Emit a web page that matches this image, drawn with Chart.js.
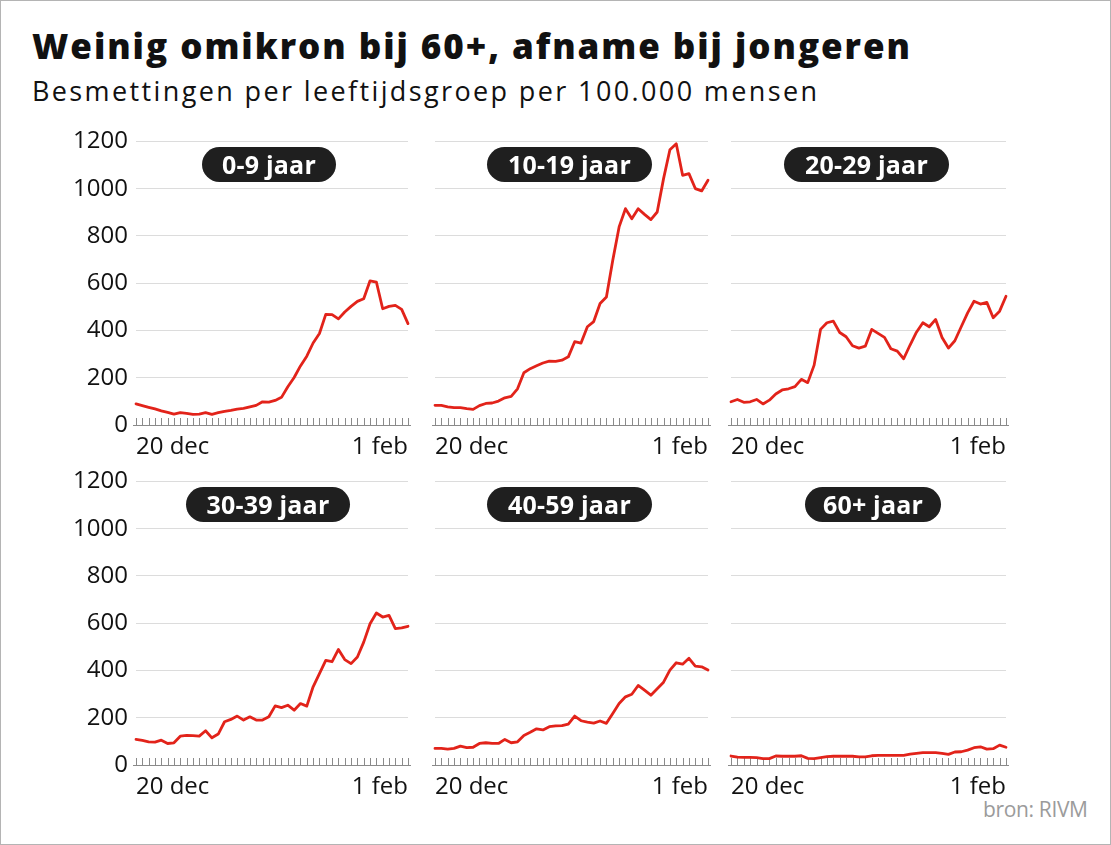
<!DOCTYPE html>
<html><head><meta charset="utf-8">
<script src="https://cdn.jsdelivr.net/npm/chart.js@4"></script>
<style>
html,body{margin:0;padding:0;background:#fff;}
#frame{position:relative;width:1111px;height:845px;overflow:hidden;font-family:"Open Sans",sans-serif;background:#fff;}
#border{position:absolute;left:0;top:0;width:1111px;height:845px;box-sizing:border-box;border:1px solid #b4b4b4;pointer-events:none;}
.t{position:absolute;white-space:nowrap;line-height:1;}
#title{left:32px;top:28px;font-size:35px;font-weight:800;color:#111;}
#sub{left:32px;top:77px;font-size:27px;font-weight:400;color:#111;}
#src{left:983px;top:799px;font-size:21px;color:#9b9b9b;}
.pill{position:absolute;height:35px;border-radius:18px;background:#1f1f1f;color:#fff;font-weight:700;font-size:25px;display:flex;align-items:center;justify-content:center;line-height:1;white-space:nowrap;letter-spacing:0.2px;}
canvas{position:absolute;}
</style></head>
<body>
<div id="frame">
  <div id="title" class="t">Weinig omikron bij 60+, afname bij jongeren</div>
  <div id="sub" class="t">Besmettingen per leeftijdsgroep per 100.000 mensen</div>
  <div id="src" class="t">bron: RIVM</div>
  <canvas id="c0" width="360" height="340" style="left:60px;top:125px"></canvas>
  <canvas id="c1" width="295" height="340" style="left:425px;top:125px"></canvas>
  <canvas id="c2" width="297" height="340" style="left:721px;top:125px"></canvas>
  <canvas id="c3" width="360" height="340" style="left:60px;top:465px"></canvas>
  <canvas id="c4" width="295" height="340" style="left:425px;top:465px"></canvas>
  <canvas id="c5" width="297" height="340" style="left:721px;top:465px"></canvas>
  <div id="p0" class="pill" style="left:202px;top:147px;width:134px"></div>
  <div id="p1" class="pill" style="left:487px;top:147px;width:165px"></div>
  <div id="p2" class="pill" style="left:784px;top:147px;width:165px"></div>
  <div id="p3" class="pill" style="left:186px;top:487px;width:164px"></div>
  <div id="p4" class="pill" style="left:487px;top:487px;width:165px"></div>
  <div id="p5" class="pill" style="left:805px;top:487px;width:136px"></div>
  <div id="border"></div>
</div>
<script>
// ---- data ----
const categories = ['20 dec','21 dec','22 dec','23 dec','24 dec','25 dec','26 dec','27 dec','28 dec','29 dec','30 dec','31 dec',
 '1 jan','2 jan','3 jan','4 jan','5 jan','6 jan','7 jan','8 jan','9 jan','10 jan','11 jan','12 jan','13 jan','14 jan','15 jan',
 '16 jan','17 jan','18 jan','19 jan','20 jan','21 jan','22 jan','23 jan','24 jan','25 jan','26 jan','27 jan','28 jan','29 jan',
 '30 jan','31 jan','1 feb'];
const groupNames = ['0-9 jaar','10-19 jaar','20-29 jaar','30-39 jaar','40-59 jaar','60+ jaar'];
const s0_9   = [89,82,75,68,60,53,46,52,49,45,46,52,45,52,58,62,67,70,77,83,98,97,104,117,162,201,250,291,347,387,468,467,449,478,502,523,534,610,605,492,502,506,489,429];
const s10_19 = [83,83,77,73,73,69,66,82,91,93,101,115,121,153,221,238,250,262,270,269,274,288,352,346,415,437,513,541,696,837,914,871,914,890,868,900,1041,1163,1188,1055,1062,999,989,1034];
const s20_29 = [98,108,96,98,108,89,105,131,148,153,162,193,179,253,404,432,439,391,373,335,325,333,404,387,370,322,312,280,338,392,432,415,446,370,325,356,415,474,523,511,518,453,481,544];
const s30_39 = [108,104,98,97,105,91,94,122,125,124,122,145,115,131,183,193,207,190,204,190,190,204,250,243,253,232,260,249,331,387,443,437,489,446,429,457,520,598,643,626,633,577,580,587];
const s40_59 = [70,70,67,70,80,73,75,91,94,91,91,108,94,98,125,138,153,148,162,165,166,173,207,187,181,177,186,176,218,260,288,299,336,316,295,322,350,401,432,426,451,418,415,401];
const s60p   = [38,33,32,32,31,27,27,38,37,37,37,39,28,27,31,35,37,37,37,37,34,34,39,41,41,41,41,41,46,49,52,52,52,49,45,55,56,63,73,77,67,69,84,75];
const seriesList = [s0_9, s10_19, s20_29, s30_39, s40_59, s60p];
const yTickValues = [0,200,400,600,800,1000,1200];
const xTickLabels = ['20 dec','1 feb'];

// ---- helpers ----
function fitText(el, target){
  el.style.letterSpacing='0px';
  const w = el.getBoundingClientRect().width;
  const n = el.textContent.length;
  el.style.letterSpacing = ((target - w)/(n-1)).toFixed(3)+'px';
}
fitText(document.getElementById('title'), 878);
fitText(document.getElementById('sub'), 785);
fitText(document.getElementById('src'), 105);

groupNames.forEach((g,i)=>{ document.getElementById('p'+i).textContent = g; });

const dayTicks = {
  id:'dayTicks',
  beforeDatasetsDraw(chart){
    const {ctx, scales:{x,y}} = chart;
    const y0 = Math.round(y.getPixelForValue(0));
    const n = chart.data.labels.length;
    ctx.save();
    ctx.strokeStyle='#8a8a8a'; ctx.lineWidth=1;
    ctx.beginPath();
    const xa = x.getPixelForValue(0), xb = x.getPixelForValue(n-1);
    ctx.moveTo(Math.round(xa)-3, y0+0.5); ctx.lineTo(Math.round(xb)+3, y0+0.5);
    for(let i=0;i<n;i++){
      const px = Math.round(x.getPixelForValue(i))+0.5;
      ctx.moveTo(px, y0+0.5); ctx.lineTo(px, y0-7);
    }
    ctx.stroke(); ctx.restore();
  }
};

const TOP = 16;   // desired chart-area top inside canvas
const H = 340;
const FONT = '"Open Sans"';
function config(i){
  const col = i%3;
  const n = categories.length;
  return {
    type:'line',
    data:{labels:categories, datasets:[{data:seriesList[i], borderColor:'#e2231a', borderWidth:2.8, borderJoinStyle:'round', borderCapStyle:'round', pointRadius:0, tension:0, clip:false, fill:false}]},
    options:{
      responsive:false, maintainAspectRatio:false, animation:false, devicePixelRatio:1,
      layout:{padding:{top:TOP,right:12,left:0,bottom:0}},
      plugins:{legend:{display:false}, tooltip:{enabled:false}},
      scales:{
        x:{type:'category', offset:false,
           grid:{display:false, drawTicks:false}, border:{display:false},
           ticks:{autoSkip:false, maxRotation:0, minRotation:0, align:'inner', padding:8, color:'#111',
                  font:{family:FONT, size:24},
                  callback:(v,idx)=> idx===0 ? xTickLabels[0] : (idx===n-1 ? xTickLabels[1] : '')},
           afterFit(s){ s.height = 40; }},
        y:{min:0, max:1200,
           afterBuildTicks(s){ s.ticks = yTickValues.map(v=>({value:v})); },
           grid:{color:(c)=> c.tick && c.tick.value===0 ? 'rgba(0,0,0,0)' : '#dcdcdc', drawTicks:false, lineWidth:1},
           border:{display:false},
           ticks:{display: col===0, padding:8, color:'#111', font:{family:FONT, size:24}, callback:(v)=>String(v)},
           afterFit(s){ s.width = col===0 ? 76 : 10; }}
      }
    },
    plugins:[dayTicks]
  };
}
function makePanel(i){
  const cv = document.getElementById('c'+i);
  let chart = new Chart(cv, config(i));
  // keep chart-area top/bottom at the same page position in every panel
  const diff = Math.round(chart.chartArea.top - TOP);
  if (diff !== 0) {
    chart.destroy();
    cv.style.top = (parseFloat(cv.style.top) - diff) + 'px';
    cv.width = parseInt(cv.getAttribute('width'));
    cv.height = H + diff;
    cv.style.width = cv.width + 'px';
    cv.style.height = cv.height + 'px';
    chart = new Chart(cv, config(i));
  }
}
for(let i=0;i<6;i++) makePanel(i);
</script>
</body></html>
